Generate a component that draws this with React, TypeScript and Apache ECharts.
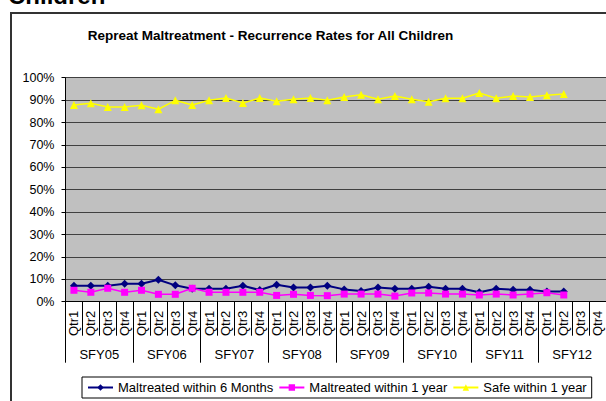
import React, { useEffect, useRef } from "react";
import * as echarts from "echarts";

const years = ["SFY05", "SFY06", "SFY07", "SFY08", "SFY09", "SFY10", "SFY11", "SFY12"];
const quarters = ["Qtr1", "Qtr2", "Qtr3", "Qtr4"];
const yTicks = [0, 10, 20, 30, 40, 50, 60, 70, 80, 90, 100];

const within6Months = [
  7.1, 7.1, 7.1, 8.0, 8.0, 9.8, 7.3, 5.8, 5.8, 5.8, 7.1, 5.2, 7.6, 6.3, 6.3, 7.1,
  5.5, 4.8, 6.3, 5.8, 5.8, 6.7, 5.8, 5.8, 4.2, 5.8, 5.3, 5.3, 4.5, 4.5, null, null,
];
const within1Year = [
  5.1, 4.2, 6.0, 4.2, 5.1, 3.3, 3.3, 6.0, 4.2, 4.2, 4.2, 4.2, 2.8, 3.3, 2.8, 2.7,
  3.4, 3.4, 3.4, 2.5, 3.9, 3.9, 3.4, 3.4, 3.0, 3.4, 3.0, 3.4, 4.0, 3.0, null, null,
];
const safe1Year = [
  87.8, 88.6, 86.9, 86.9, 87.7, 85.9, 89.9, 87.8, 89.9, 90.9, 88.7, 90.9, 89.5, 90.4, 90.9, 89.9,
  91.4, 92.4, 90.4, 91.8, 90.4, 89.3, 90.8, 90.8, 93.2, 90.8, 91.8, 91.4, 92.2, 92.7, null, null,
];

const seriesNames = ["Maltreated within 6 Months", "Maltreated within 1 year", "Safe within 1 year"];

const FONT = '"Liberation Sans", Arial, sans-serif';

export default function App() {
  const ref = useRef<HTMLDivElement>(null);
  useEffect(() => {
    if (!ref.current) return;
    const chart = echarts.init(ref.current, null, { renderer: "svg" });
    const categories = years.flatMap(() => quarters);
    chart.setOption({
      animation: false,
      backgroundColor: "#ffffff",
      textStyle: { fontFamily: FONT },
      graphic: [
        {
          type: "text",
          x: 8,
          y: -5,
          style: {
            text: "Children",
            font: `bold 24px ${FONT}`,
            fill: "#000",
            align: "left",
            verticalAlign: "middle",
          },
        },
        {
          type: "line",
          shape: { x1: 11, y1: 13, x2: 640, y2: 13 },
          style: { stroke: "#333", lineWidth: 2 },
          z: 10,
        },
        {
          type: "line",
          shape: { x1: 11, y1: 12, x2: 11, y2: 420 },
          style: { stroke: "#333", lineWidth: 2 },
          z: 10,
        },
        {
          type: "text",
          x: 270.5,
          y: 35,
          style: {
            text: "Repreat Maltreatment - Recurrence Rates for All Children",
            font: `bold 13.5px ${FONT}`,
            fill: "#000",
            align: "center",
            verticalAlign: "middle",
          },
        },
      ],
      grid: {
        left: 65.5,
        top: 77.7,
        width: 543,
        height: 224,
        show: true,
        backgroundColor: "#c0c0c0",
        borderWidth: 0,
        containLabel: false,
      },
      legend: {
        data: seriesNames,
        left: 82,
        top: 377,
        padding: [4, 5, 4, 5],
        itemGap: 5,
        itemWidth: 25,
        itemHeight: 8,
        borderColor: "#000",
        borderWidth: 1,
        backgroundColor: "#fff",
        selectedMode: false,
        textStyle: { fontSize: 13, color: "#000", fontFamily: FONT },
      },
      xAxis: [
        {
          type: "category",
          data: categories,
          position: "bottom",
          boundaryGap: true,
          axisLine: { show: true, lineStyle: { color: "#000", width: 1 } },
          axisTick: { show: true, interval: 0, length: 34, lineStyle: { color: "#000" } },
          axisLabel: {
            interval: 0,
            rotate: 90,
            margin: 9,
            fontSize: 13,
            color: "#000",
            fontFamily: FONT,
          },
          splitLine: { show: false },
        },
        {
          type: "category",
          data: years,
          position: "bottom",
          offset: 0,
          boundaryGap: true,
          axisLine: { show: false },
          axisTick: { show: true, interval: 0, length: 61, lineStyle: { color: "#000" } },
          axisLabel: {
            interval: 0,
            margin: 46,
            fontSize: 13,
            color: "#000",
            fontFamily: FONT,
          },
          splitLine: { show: false },
        },
      ],
      yAxis: {
        type: "value",
        min: yTicks[0],
        max: yTicks[yTicks.length - 1],
        interval: 10,
        axisLine: { show: true, lineStyle: { color: "#000", width: 1 } },
        axisTick: { show: true, length: 4, lineStyle: { color: "#000" } },
        axisLabel: {
          margin: 11,
          fontSize: 12.5,
          color: "#000",
          fontFamily: FONT,
          formatter: (v: number) => `${v}%`,
        },
        splitLine: { show: true, lineStyle: { color: "#404040", width: 1 } },
      },
      series: [
        {
          name: seriesNames[0],
          type: "line",
          xAxisIndex: 0,
          data: within6Months,
          symbol: "diamond",
          symbolSize: 8,
          lineStyle: { color: "#000080", width: 2 },
          itemStyle: { color: "#000080" },
        },
        {
          name: seriesNames[1],
          type: "line",
          xAxisIndex: 0,
          data: within1Year,
          symbol: "rect",
          symbolSize: 7,
          lineStyle: { color: "#ff00ff", width: 1.5 },
          itemStyle: { color: "#ff00ff" },
        },
        {
          name: seriesNames[2],
          type: "line",
          xAxisIndex: 0,
          data: safe1Year,
          symbol: "triangle",
          symbolSize: 8,
          lineStyle: { color: "#ffff00", width: 1.5 },
          itemStyle: { color: "#ffff00" },
        },
      ],
    });
    return () => chart.dispose();
  }, []);
  return (
    <div
      ref={ref}
      style={{ position: "absolute", left: 0, top: 0, width: 606, height: 401, background: "#fff" }}
    />
  );
}
